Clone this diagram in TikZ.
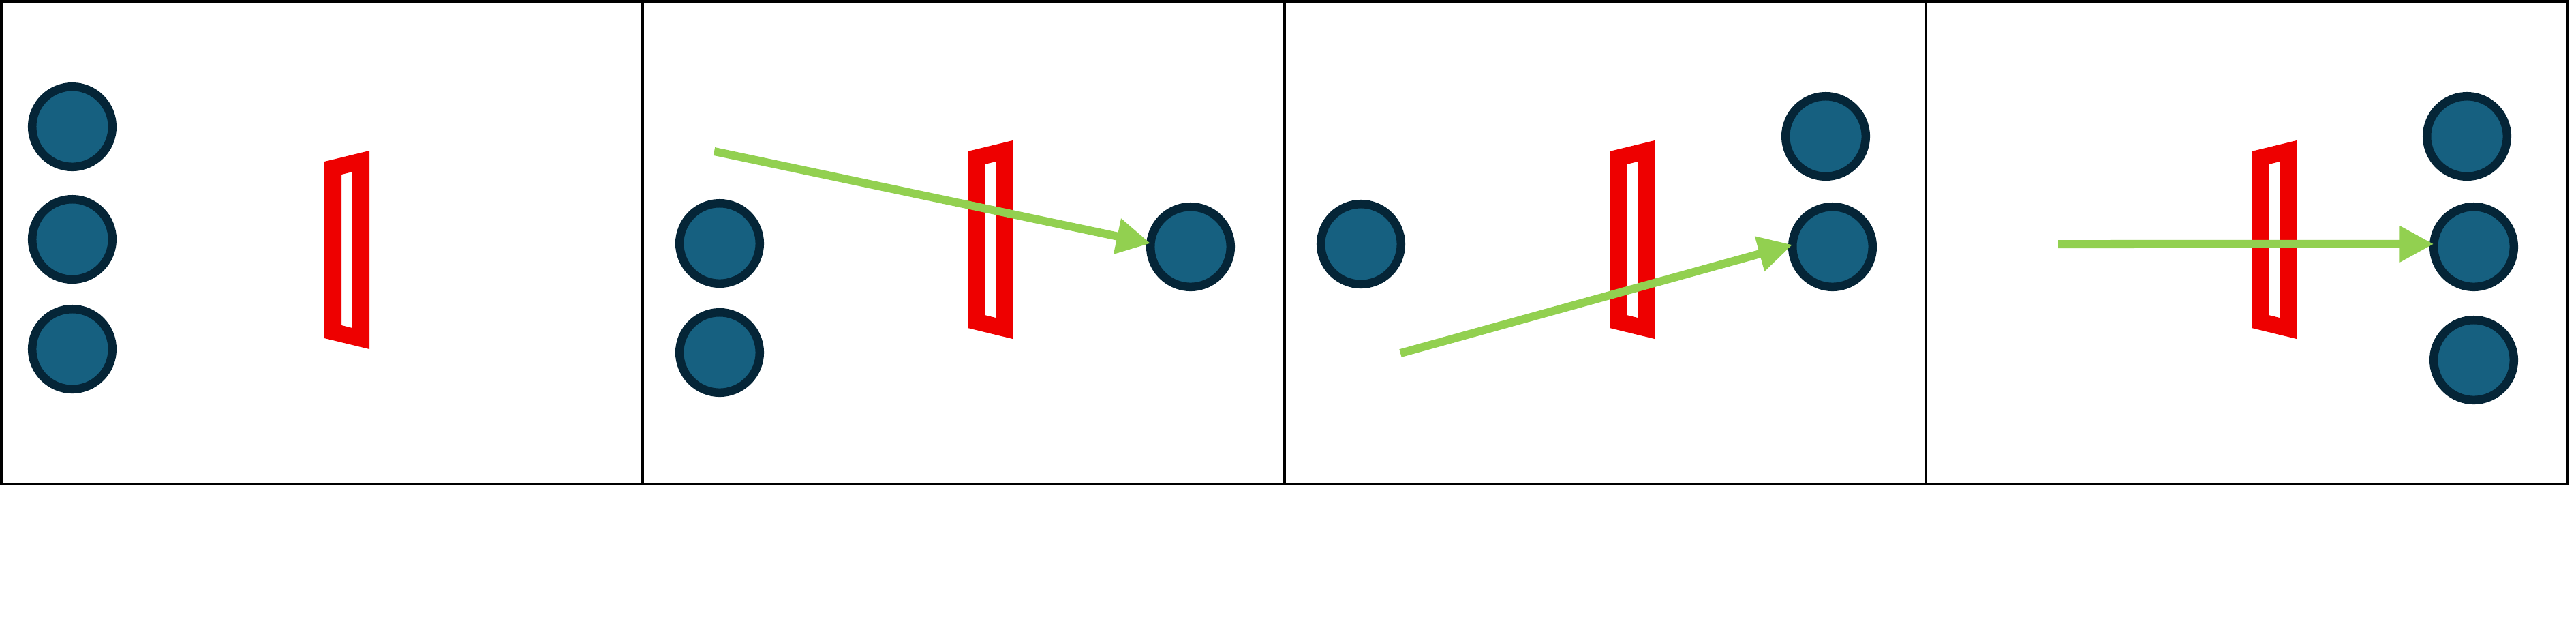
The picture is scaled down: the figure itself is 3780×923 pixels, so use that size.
\documentclass[tikz,border=0pt]{standalone}
\usetikzlibrary{arrows.meta}
\definecolor{ballfill}{RGB}{22,96,128}
\definecolor{balledge}{RGB}{5,37,55}
\definecolor{framered}{RGB}{238,0,0}
\definecolor{raygreen}{RGB}{146,208,80}
\tikzset{
  ball/.style={circle, draw=balledge, fill=ballfill, line width=0.125cm,
    minimum size=1.175cm, inner sep=0pt, outer sep=0pt},
  ray/.style={draw=raygreen, line width=0.12cm,
    -{Triangle[length=0.5cm, width=0.5cm]}},
  panelline/.style={draw=black, line width=0.04cm},
  slit/.style={fill=framered, even odd rule}
}
\begin{document}
\begin{tikzpicture}[x=0.01cm, y=-0.01cm]
\useasboundingbox (0,0) rectangle (3780,923);
% frame and dividers
\draw[panelline] (2,2) rectangle (3768,710);
\draw[panelline] (943,2) -- (943,710);
\draw[panelline] (1885,2) -- (1885,710);
\draw[panelline] (2826,2) -- (2826,710);
% red frames
\foreach \dx/\dy in {0/0, 944/-15, 1886/-15, 2828/-15}{
  \begin{scope}[shift={(\dx,\dy)}]
    \path[slit] (476,237) -- (542,221) -- (542,512) -- (476,496) -- cycle
                (501,256) -- (517,252) -- (517,481) -- (501,477) -- cycle;
  \end{scope}
}
% panel 1
\node[ball] (p1a) at (106,186) {};
\node[ball] (p1b) at (106,351) {};
\node[ball] (p1c) at (106,512) {};
% panel 2
\node[ball] (p2a) at (1056,357) {};
\node[ball] (p2b) at (1056,517) {};
\node[ball] (p2c) at (1747,362) {};
\coordinate (s2) at (1048,222);
\draw[ray] (s2) -- (p2c.175);
% panel 3
\node[ball] (p3a) at (1997,358) {};
\node[ball] (p3b) at (2679,200) {};
\node[ball] (p3c) at (2689,362) {};
\coordinate (s3) at (2055,518);
\draw[ray] (s3) -- (p3c.177);
% panel 4
\node[ball] (p4a) at (3620,200) {};
\node[ball] (p4b) at (3630,362) {};
\node[ball] (p4c) at (3630,528) {};
\coordinate (s4) at (3020,358);
\draw[ray] (s4) -- (p4b.176);
\end{tikzpicture}
\end{document}
